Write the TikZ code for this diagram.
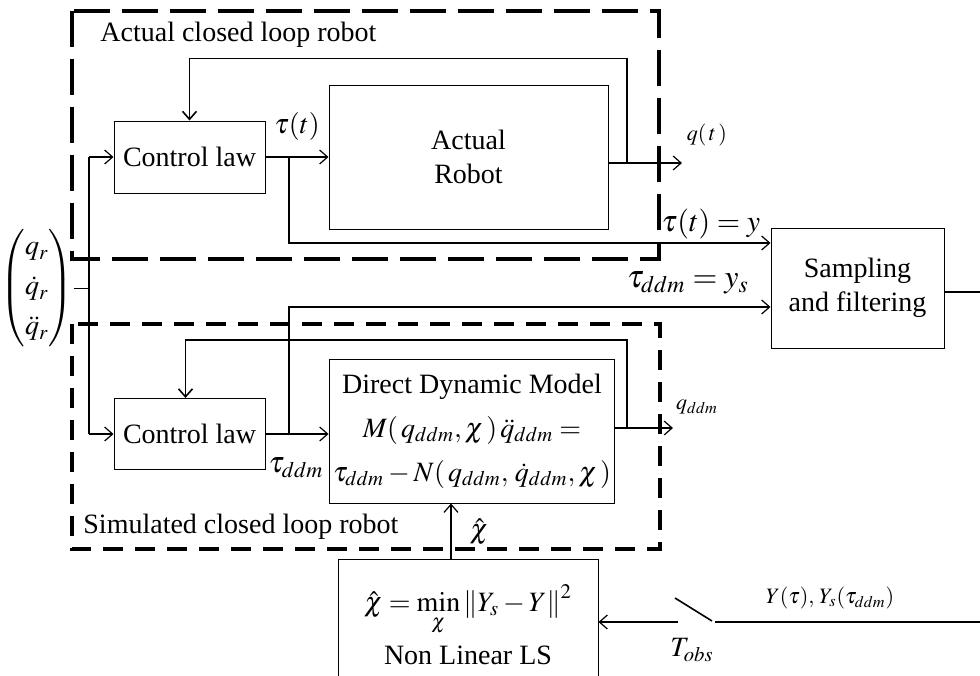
\documentclass[tikz,border=0pt]{standalone}
\usepackage{amsmath}
\usepackage{mathptmx}
\usepackage{fontspec}
\setmainfont{Liberation Serif}
\usetikzlibrary{arrows.meta, positioning, calc}

\begin{document}
\begin{tikzpicture}[x=0.5pt,y=-0.5pt,>={Straight Barb[length=4pt,width=7pt]},
        font=\fontsize{14}{17}\selectfont,
        block/.style={draw,line width=0.5pt,inner sep=2pt,align=center},
        wire/.style={line width=0.8pt},
        sig/.style={->,line width=0.6pt},
        actualframe/.style={draw,line width=2pt,dash pattern=on 18pt off 6pt},
        simframe/.style={draw,line width=1.8pt,dash pattern=on 10pt off 6pt},
        small/.style={font=\fontsize{11}{13}\selectfont}]

    \useasboundingbox (0,0) rectangle (980,675);

    % the two closed loops
    \draw[actualframe] (72,11) rectangle (659,259);
    \draw[simframe] (72,324) rectangle (660,549);
    \node[anchor=west,inner sep=0pt] (actlabel) at (100,35) {Actual closed loop robot};
    \node[anchor=west,inner sep=0pt] (simlabel) at (83,527) {Simulated closed loop robot};

    % blocks
    \node[block,minimum width=75.5pt,minimum height=36pt] (cl1) at (189.5,157) {Control law};
    \node[block,minimum width=139.5pt,minimum height=72pt] (robot) at (468.5,157) {Actual\\Robot};
    \node[block,minimum width=86.5pt,minimum height=60pt] (samp) at (857.5,288) {Sampling\\and filtering};
    \node[block,minimum width=75.5pt,minimum height=35.5pt] (cl2) at (189.5,434) {Control law};
    \node[block,minimum width=139pt,minimum height=72pt] (ddm) at (472,431)
        {Direct Dynamic Model\\[5pt]
         $M(\,q_{ddm},\chi\,)\,\ddot q_{ddm} =$\\[5pt]
         $\tau_{ddm} - N(\,q_{ddm},\,\dot q_{ddm},\chi\,)$};
    \node[block,minimum width=130pt,minimum height=66pt] (nlls) at (468,625)
        {$\hat\chi = \min\limits_{\chi}\left\|Y_s - Y\right\|^2$\\[4pt] Non Linear LS};
    \node[inner sep=0pt] (qref) at (37,288)
        {$\left(\begin{matrix} q_r\\[3pt] \dot q_r\\[3pt] \ddot q_r\end{matrix}\right)$};

    % junctions
    \coordinate (bustop) at (89,157);
    \coordinate (busbot) at (89,434);
    \coordinate (tap1) at (289,157);
    \coordinate (tap2) at (289,434);
    \coordinate (qout) at (682,163);
    \coordinate (fb1) at (627,163);
    \coordinate (qdout) at (673,428);
    \coordinate (fb2) at (627,428);
    \coordinate (est) at (451,559);
    \coordinate (swa) at (675,598);
    \coordinate (swb) at (712,621);
    \coordinate (swin) at (678,622);
    \coordinate (meas) at (715,622);

    % reference input
    \draw[line width=0.5pt] (qref.east) -- (qref.east -| bustop);
    \draw[wire] (bustop) -- (busbot);
    \draw[sig] (bustop) -- (cl1.west);
    \draw[sig] (busbot) -- (cl2.west);

    % actual loop
    \draw[sig] (cl1) -- (robot);
    \draw[sig] (robot.east |- qout) -- (qout);
    \draw[wire,->] (fb1) |- ([yshift=31pt]cl1.north) -- (cl1.north);
    \draw[sig] (tap1) |- ($(samp.west)+(0,-45)$);

    % simulated loop
    \draw[sig] (cl2.east) -- (cl2.east -| ddm.west);
    \draw[sig] (ddm.east |- qdout) -- (qdout);
    \draw[wire,->] (fb2) |- ([xshift=-2pt,yshift=29pt]cl2.north) -- ([xshift=-2pt]cl2.north);
    \draw[sig] (tap2) |- ($(samp.west)+(0,19)$);

    % identification
    \draw[sig] (est) -- (est |- ddm.south);
    \draw[wire] ($(samp.east)+(0,4)$) -- (986,292) -- (986,622) -- (meas);
    \draw[wire] (swa) -- (swb);
    \draw[sig] (swin) -- (swin -| nlls.east);

    % labels
    \node (taulbl) at (297,126) {$\tau(t)$};
    \node[small] (qlbl) at (707,135) {$q(\,t\,)$};
    \node[font=\fontsize{15}{18}\selectfont] (ylbl) at (711,224) {$\tau(t)=y$};
    \node[font=\fontsize{16}{19}\selectfont] (yslbl) at (688,283) {$\tau_{ddm} = y_s$};
    \node[font=\fontsize{15}{18}\selectfont] (tddmlbl) at (296,468) {$\tau_{ddm}$};
    \node[small] (qdlbl) at (697,407) {$q_{ddm}$};
    \node (chilbl) at (479,532) {$\hat\chi$};
    \node[small] (measlbl) at (830,598) {$Y(\tau),\,Y_s(\tau_{ddm})$};
    \node (tobslbl) at (692,650) {$T_{obs}$};
\end{tikzpicture}
\end{document}
